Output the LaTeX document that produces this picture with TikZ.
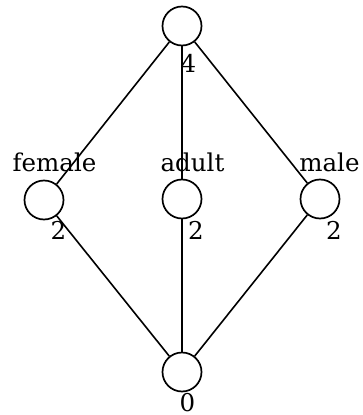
\documentclass[tikz,border=0pt]{standalone}
\usepackage{fontspec}
\setmainfont{DejaVu Serif}
\begin{document}
\begin{tikzpicture}[x=1pt,y=-1pt,
  vertex/.style={circle,draw,line width=1.7pt,minimum size=39pt,inner sep=0pt},
  edge/.style={line width=1.6pt},
  lbl/.style={anchor=base,inner sep=0pt,font=\fontsize{24.5}{29}\selectfont}]
\useasboundingbox (0,0) rectangle (363,415);
% lattice vertices
\node[vertex] (top) at (182,26) {};
\node[vertex] (female) at (44,200) {};
\node[vertex] (adult) at (182,199) {};
\node[vertex] (male) at (320,199) {};
\node[vertex] (bottom) at (182,372) {};
% edges
\draw[edge] (top) -- (female);
\draw[edge] (top) -- (adult);
\draw[edge] (top) -- (male);
\draw[edge] (female) -- (bottom);
\draw[edge] (adult) -- (bottom);
\draw[edge] (male) -- (bottom);
% attribute labels
\node[lbl] (lfemale) at (54.5,171) {female};
\node[lbl] (ladult) at (192.5,171) {adult};
\node[lbl] (lmale) at (329.5,171) {male};
% counts
\node[lbl] (ctop) at (188.5,72) {4};
\node[lbl] (cfemale) at (58.5,239) {2};
\node[lbl] (cadult) at (196,239) {2};
\node[lbl] (cmale) at (334,239) {2};
\node[lbl] (cbottom) at (187.5,411) {0};
\end{tikzpicture}
\end{document}
